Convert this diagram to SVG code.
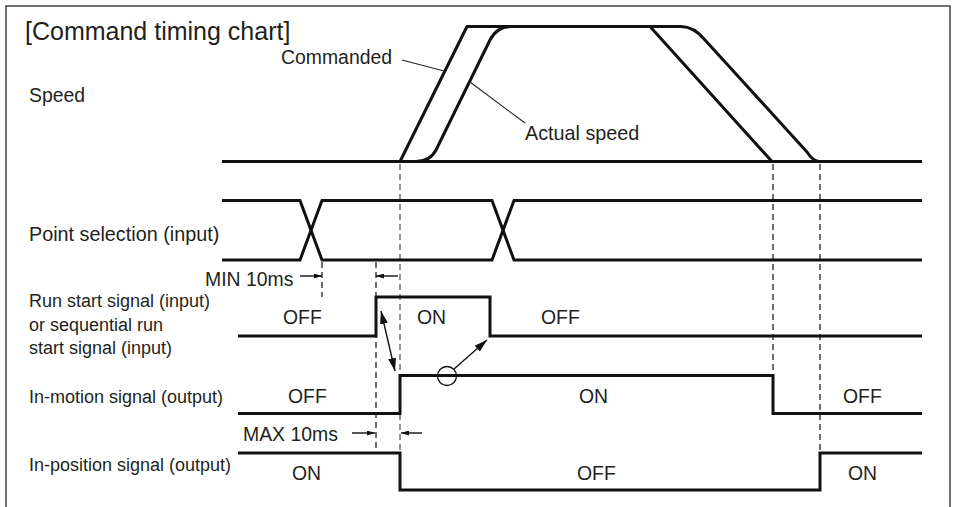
<svg xmlns="http://www.w3.org/2000/svg" width="953" height="507" viewBox="0 0 953 507">
<style>
text{font-family:"Liberation Sans",Arial,sans-serif;font-size:19.4px;fill:#231f20}
.title{font-size:25px}
.lbl{font-size:18px}
.big{font-size:19.8px}
.sig{fill:none;stroke:#111;stroke-width:3;stroke-linejoin:miter}
.spd{fill:none;stroke:#111;stroke-width:3;stroke-linejoin:round}
.lead{fill:none;stroke:#222;stroke-width:1.1}
.dash{fill:none;stroke:#222;stroke-width:1.3;stroke-dasharray:6 4}
.dashg{fill:none;stroke:#888;stroke-width:1.8;stroke-dasharray:6 4}
.arr{fill:none;stroke:#111;stroke-width:1.4}
</style>
<defs>
<marker id="ah" viewBox="0 0 13 8" refX="13" refY="4" markerWidth="13" markerHeight="8" orient="auto-start-reverse" markerUnits="userSpaceOnUse"><path d="M0,0 L13,4 L0,8 z" fill="#111"/></marker>
<marker id="ahs" viewBox="0 0 8 5" refX="8" refY="2.5" markerWidth="8" markerHeight="5" orient="auto" markerUnits="userSpaceOnUse"><path d="M0,0 L8,2.5 L0,5 z" fill="#111"/></marker>
</defs>
<rect width="953" height="507" fill="#fff"/>
<path d="M6,520 L6,6 L950,6 L950,520" fill="none" stroke="#444" stroke-width="1.5"/>
<g id="title"><text class="title" x="25" y="40">[Command timing chart]</text></g>
<g id="connectors">
<path class="dash" d="M322,262 V297"/>
<path class="dash" d="M376,262 V448"/>
<path class="dashg" d="M400,164 V453"/>
<path class="dash" d="M773,164 V375"/>
<path class="dash" d="M820,164 V453"/>
<path class="arr" d="M300,276 H322" marker-end="url(#ahs)"/>
<path class="arr" d="M398,276 H376" marker-end="url(#ahs)"/>
<path class="arr" d="M352,433 H375" marker-end="url(#ahs)"/>
<path class="arr" d="M422,433 H401" marker-end="url(#ahs)"/>
<path class="arr" d="M381,311 L395,371" marker-start="url(#ah)" marker-end="url(#ah)"/>
<circle cx="447" cy="376" r="9.5" fill="none" stroke="#111" stroke-width="1.3"/>
<path class="arr" d="M454,369 L487,340" marker-end="url(#ah)"/>
</g>
<g id="speed">
<text x="29" y="102">Speed</text>
<path class="sig" d="M222,161.5 H922"/>
<path class="spd" d="M400,161.5 L467,26.5 L650,26.5 L772,161.5"/>
<path class="spd" d="M416,161.5 Q430,161.5 436,150 L490,40 Q497,26.5 511,26.5 L681,26.5 Q694,26.5 705,40 L807,152 Q813,161.5 820,161.5"/>
<text x="281" y="64">Commanded</text>
<path class="lead" d="M402,60 L444,71"/>
<text class="big" x="525" y="140">Actual speed</text>
<path class="lead" d="M470,82 L525,123"/>
</g>
<g id="point-selection">
<text class="big" x="29" y="241">Point selection (input)</text>
<path class="sig" d="M222,200.5 H300 L322,260 H492 L514,200.5 H922"/>
<path class="sig" d="M222,260 H300 L322,200.5 H492 L514,260 H922"/>
<text x="205" y="286">MIN 10ms</text>
</g>
<g id="run-start">
<text class="lbl" x="29" y="307">Run start signal (input)</text>
<text class="lbl" x="29" y="330.5">or sequential run</text>
<text class="lbl" x="29" y="354">start signal (input)</text>
<path class="sig" d="M238,336 H376 V297 H490 V336 H922"/>
<text x="283" y="324">OFF</text>
<text x="417" y="324">ON</text>
<text x="541" y="324">OFF</text>
</g>
<g id="in-motion">
<text class="lbl" x="29" y="403">In-motion signal (output)</text>
<path class="sig" d="M238,413.5 H400 V375.5 H773 V413.5 H922"/>
<text x="288" y="403">OFF</text>
<text x="579" y="403">ON</text>
<text x="843" y="403">OFF</text>
<text x="243" y="441">MAX 10ms</text>
</g>
<g id="in-position">
<text class="lbl" x="29" y="471">In-position signal (output)</text>
<path class="sig" d="M238,453 H400 V490 H820 V453 H922"/>
<text x="292" y="480">ON</text>
<text x="577" y="480">OFF</text>
<text x="848" y="480">ON</text>
</g>
</svg>
